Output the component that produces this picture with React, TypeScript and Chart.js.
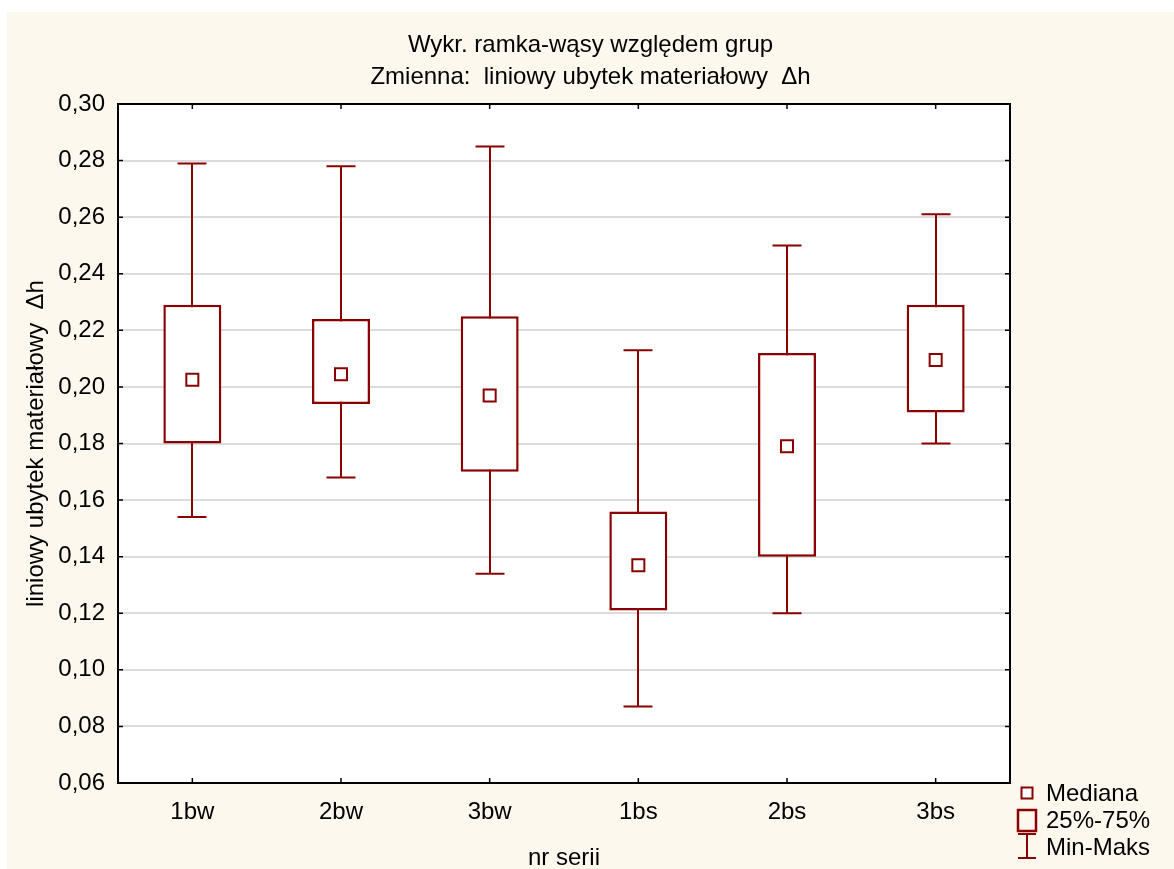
import React, { useEffect, useRef } from 'react';
import { Chart, registerables } from 'chart.js';

Chart.register(...registerables);

const categories = ['1bw', '2bw', '3bw', '1bs', '2bs', '3bs'];
const minValues = [0.154, 0.168, 0.134, 0.087, 0.12, 0.18];
const q1Values = [0.18, 0.194, 0.17, 0.121, 0.14, 0.191];
const medianValues = [0.2025, 0.2045, 0.197, 0.137, 0.179, 0.2095];
const q3Values = [0.229, 0.224, 0.225, 0.156, 0.212, 0.229];
const maxValues = [0.279, 0.278, 0.285, 0.213, 0.25, 0.261];
const yTicks = [0.06, 0.08, 0.1, 0.12, 0.14, 0.16, 0.18, 0.2, 0.22, 0.24, 0.26, 0.28, 0.3];
const titleLines = ['Wykr. ramka-wąsy względem grup', 'Zmienna:  liniowy ubytek materiałowy  Δh'];
const xTitle = 'nr serii';
const yTitle = 'liniowy ubytek materiałowy  Δh';
const legendLabels = ['Mediana', '25%-75%', 'Min-Maks'];

const RED = '#8b0000';
const CREAM = '#fdf8ee';
const FONT = 'Liberation Sans, Arial, sans-serif';
const W = 1167;
const H = 857;

const decor = {
  id: 'decor',
  beforeDraw(chart: any) {
    const { ctx, chartArea: a } = chart;
    ctx.save();
    ctx.fillStyle = CREAM;
    ctx.fillRect(0, 0, chart.width, chart.height);
    ctx.fillStyle = '#ffffff';
    ctx.fillRect(a.left, a.top, a.right - a.left, a.bottom - a.top);
    ctx.restore();
  },
  beforeDatasetsDraw(chart: any) {
    const { ctx } = chart;
    const xs = chart.scales.x;
    const ys = chart.scales.y;
    ctx.save();
    ctx.strokeStyle = RED;
    ctx.lineWidth = 2;
    categories.forEach((_, i) => {
      const x = Math.round(xs.getPixelForValue(i));
      const yMin = ys.getPixelForValue(minValues[i]);
      const yMax = ys.getPixelForValue(maxValues[i]);
      ctx.beginPath();
      ctx.moveTo(x, yMax);
      ctx.lineTo(x, yMin);
      ctx.moveTo(x - 14.5, yMax);
      ctx.lineTo(x + 14.5, yMax);
      ctx.moveTo(x - 14.5, yMin);
      ctx.lineTo(x + 14.5, yMin);
      ctx.stroke();
    });
    ctx.restore();
  },
  afterDraw(chart: any) {
    const { ctx, chartArea: a } = chart;
    const xs = chart.scales.x;
    const ys = chart.scales.y;
    ctx.save();
    // frame
    ctx.strokeStyle = '#000000';
    ctx.lineWidth = 2;
    ctx.strokeRect(a.left, a.top, a.right - a.left, a.bottom - a.top);
    // inward ticks
    ctx.lineWidth = 1.5;
    ctx.beginPath();
    yTicks.forEach((v) => {
      const y = ys.getPixelForValue(v);
      ctx.moveTo(a.left, y);
      ctx.lineTo(a.left + 5, y);
      ctx.moveTo(a.right, y);
      ctx.lineTo(a.right - 5, y);
    });
    categories.forEach((_, i) => {
      const x = xs.getPixelForValue(i);
      ctx.moveTo(x, a.bottom);
      ctx.lineTo(x, a.bottom - 5);
      ctx.moveTo(x, a.top);
      ctx.lineTo(x, a.top + 5);
    });
    ctx.stroke();
    // titles
    ctx.fillStyle = '#000000';
    ctx.font = `24px ${FONT}`;
    ctx.textAlign = 'center';
    ctx.textBaseline = 'alphabetic';
    ctx.fillText(titleLines[0], W / 2, 40);
    ctx.fillText(titleLines[1], W / 2, 72);
    ctx.fillText(xTitle, (a.left + a.right) / 2, 853);
    ctx.save();
    ctx.translate(36, (a.top + a.bottom) / 2);
    ctx.rotate(-Math.PI / 2);
    ctx.fillText(yTitle, 0, 0);
    ctx.restore();
    // legend
    const lx = 1020;
    ctx.strokeStyle = RED;
    ctx.lineWidth = 2;
    ctx.fillStyle = '#ffffff';
    ctx.fillRect(lx - 5.5, 775.5, 11, 11);
    ctx.strokeRect(lx - 5.5, 775.5, 11, 11);
    ctx.lineWidth = 2.5;
    ctx.strokeRect(lx - 9, 798, 18, 21);
    ctx.lineWidth = 2;
    ctx.beginPath();
    ctx.moveTo(lx, 822);
    ctx.lineTo(lx, 846);
    ctx.moveTo(lx - 9, 822);
    ctx.lineTo(lx + 9, 822);
    ctx.moveTo(lx - 9, 846);
    ctx.lineTo(lx + 9, 846);
    ctx.stroke();
    ctx.fillStyle = '#000000';
    ctx.textAlign = 'left';
    ctx.textBaseline = 'middle';
    ctx.fillText(legendLabels[0], 1039, 782);
    ctx.fillText(legendLabels[1], 1039, 809);
    ctx.fillText(legendLabels[2], 1039, 836);
    ctx.restore();
  },
};

export default function App() {
  const ref = useRef<HTMLCanvasElement>(null);
  useEffect(() => {
    if (!ref.current) return;
    const chart = new Chart(ref.current, {
      type: 'bar',
      data: {
        labels: categories,
        datasets: [
          {
            type: 'line',
            data: medianValues,
            showLine: false,
            pointStyle: 'rect',
            pointRadius: 8.5,
            pointBackgroundColor: '#ffffff',
            pointBorderColor: RED,
            pointBorderWidth: 2,
            order: 0,
          } as any,
          {
            type: 'bar',
            data: categories.map((_, i) => [q1Values[i], q3Values[i]]),
            backgroundColor: '#ffffff',
            borderColor: RED,
            borderWidth: 2.5,
            borderSkipped: false,
            barPercentage: 0.39,
            categoryPercentage: 1,
            order: 1,
          } as any,
        ],
      },
      options: {
        responsive: false,
        devicePixelRatio: 1,
        animation: false,
        layout: { padding: { top: 92, right: 164, left: 0, bottom: 0 } },
        plugins: { legend: { display: false }, tooltip: { enabled: false }, title: { display: false } },
        scales: {
          x: {
            type: 'category',
            offset: true,
            grid: { display: false, drawTicks: false },
            border: { display: false },
            ticks: { color: '#000000', font: { family: FONT, size: 24 }, padding: 15 },
            afterFit: (s: any) => {
              s.height = 86;
            },
          },
          y: {
            type: 'linear',
            min: 0.06,
            max: 0.3,
            afterBuildTicks: (s: any) => {
              s.ticks = yTicks.map((v) => ({ value: v }));
            },
            grid: { color: '#dcdcdc', lineWidth: 2, drawTicks: false },
            border: { display: false },
            ticks: {
              color: '#000000',
              font: { family: FONT, size: 24 },
              padding: 13,
              callback: (v: any) => Number(v).toFixed(2).replace('.', ','),
            },
            afterFit: (s: any) => {
              s.width = 111;
            },
          },
        },
      },
      plugins: [decor],
    });
    return () => chart.destroy();
  }, []);
  return (
    <div style={{ position: 'absolute', left: 7, top: 12, width: W, height: H }}>
      <canvas ref={ref} width={W} height={H} style={{ display: 'block', width: W, height: H }} />
    </div>
  );
}
